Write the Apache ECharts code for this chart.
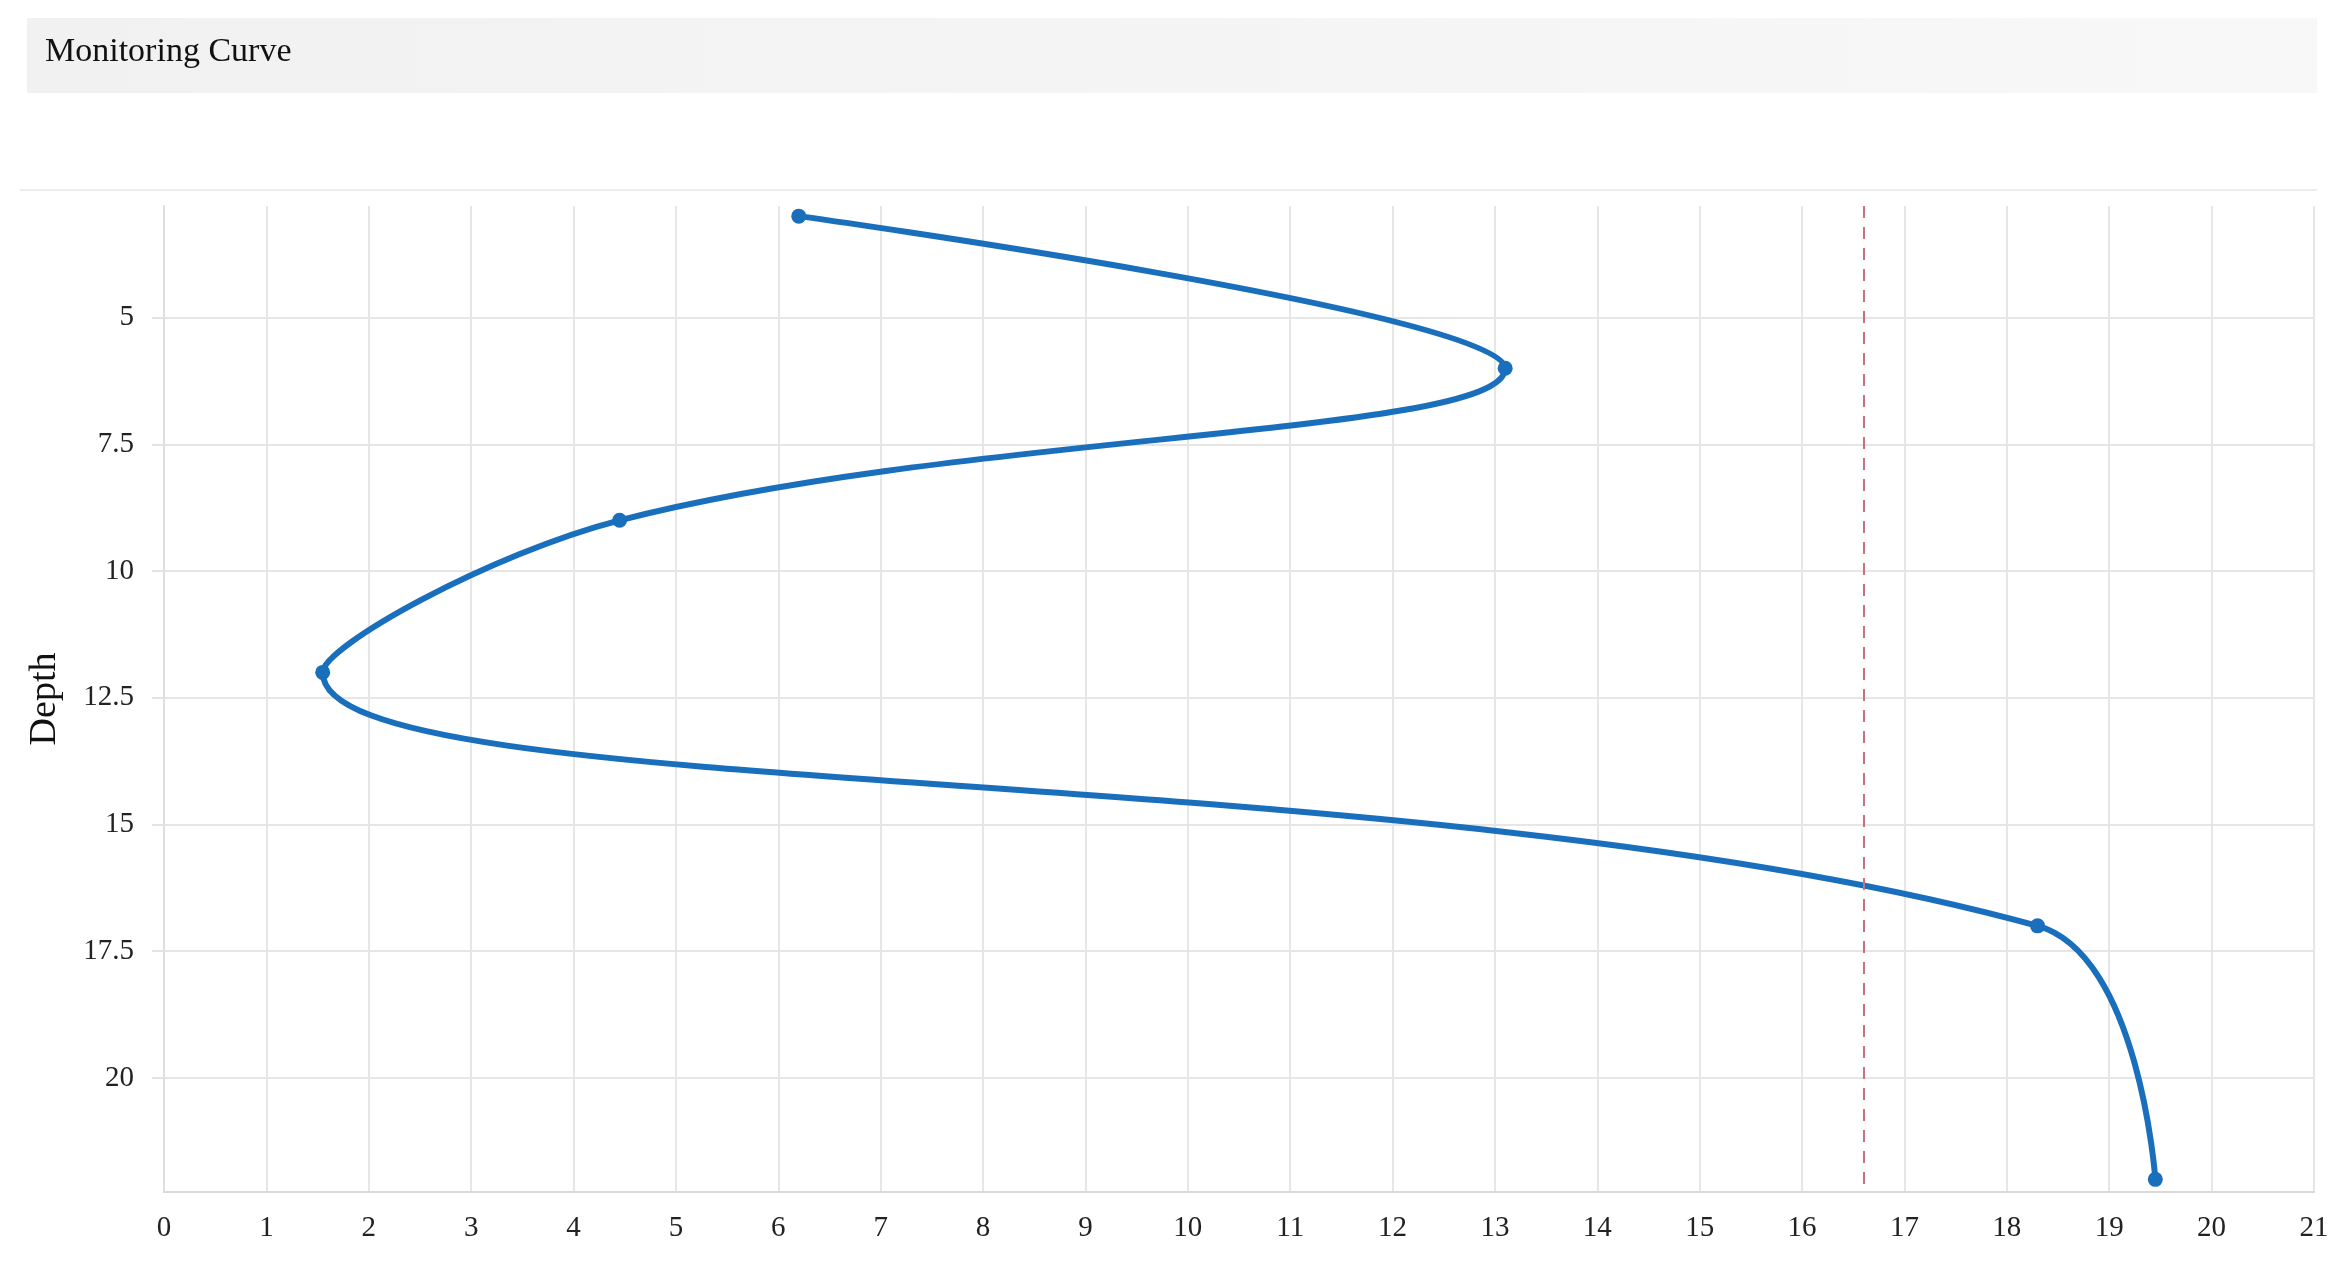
<!DOCTYPE html>
<html>
<head>
<meta charset="utf-8">
<title>Monitoring Curve</title>
<script src="https://cdn.jsdelivr.net/npm/echarts@6/dist/echarts.min.js"></script>
<style>
  html, body { margin: 0; padding: 0; background: #ffffff; }
  #monitorMain { width: 2339px; height: 1280px; }
</style>
</head>
<body>
<div id="monitorMain"></div>
<script>
// 深度 (y) 与监测值 (x)
const depthValues = [3, 6, 9, 12, 17, 22];
const curveValues = [6.2, 13.1, 4.45, 1.55, 18.3, 19.45];
// 红色虚线阈值
const thresholdValue = 16.6;
// 坐标轴范围
const xRange = [0, 21];
const yRange = [2.8, 22.25];

const seriesData = depthValues.map((d, i) => [curveValues[i], d]);

const myChart = echarts.init(document.getElementById('monitorMain'));
const serif = 'Liberation Serif';

const options = {
  backgroundColor: '#ffffff',
  animation: false,
  title: {
    text: 'Monitoring Curve',
    left: 45,
    top: 35,
    padding: 0,
    textStyle: {
      fontFamily: serif,
      fontWeight: 'normal',
      fontSize: 34,
      color: '#111111',
    },
  },
  graphic: [
    {
      type: 'rect',
      z: -10,
      shape: { x: 27, y: 18, width: 2290, height: 75 },
      style: {
        fill: new echarts.graphic.LinearGradient(0, 0, 1, 0, [
          { offset: 0, color: '#f1f1f1' },
          { offset: 1, color: '#f8f8f8' },
        ]),
      },
    },
    {
      type: 'line',
      z: -10,
      shape: { x1: 20, y1: 190, x2: 2317, y2: 190 },
      style: { stroke: '#ececec', lineWidth: 2 },
    },
  ],
  grid: {
    left: 164,
    right: 25,
    top: 206,
    bottom: 88,
    containLabel: false,
  },
  xAxis: {
    type: 'value',
    min: xRange[0],
    max: xRange[1],
    interval: 1,
    axisLine: {
      show: true,
      onZero: false,
      lineStyle: { color: '#d9d9d9', width: 2 },
    },
    axisTick: { show: false },
    axisLabel: {
      margin: 22,
      fontFamily: serif,
      fontSize: 29,
      color: '#222222',
    },
    splitLine: {
      show: true,
      lineStyle: { color: '#e6e6e6', width: 2 },
    },
  },
  yAxis: {
    type: 'value',
    inverse: true,
    min: yRange[0],
    max: yRange[1],
    minInterval: 2.5,
    maxInterval: 2.5,
    name: 'Depth',
    nameLocation: 'middle',
    nameGap: 100,
    nameTextStyle: {
      fontFamily: serif,
      fontSize: 38,
      color: '#111111',
    },
    axisLine: {
      show: true,
      onZero: false,
      lineStyle: { color: '#dedede', width: 2 },
    },
    axisTick: {
      show: true,
      length: 12,
      lineStyle: { color: '#e3e3e3', width: 2 },
    },
    axisLabel: {
      margin: 30,
      showMinLabel: false,
      showMaxLabel: false,
      fontFamily: serif,
      fontSize: 29,
      color: '#222222',
    },
    splitLine: {
      show: true,
      showMinLine: false,
      showMaxLine: false,
      lineStyle: { color: '#e6e6e6', width: 2 },
    },
  },
  series: [
    {
      type: 'line',
      data: seriesData,
      smooth: 0.4,
      symbol: 'circle',
      symbolSize: 15,
      itemStyle: { color: '#1a6fbd' },
      lineStyle: { color: '#1a6fbd', width: 6 },
      markLine: {
        silent: true,
        symbol: 'none',
        label: { show: false },
        lineStyle: { color: '#c9707e', type: [12, 9], width: 2 },
        data: [{ xAxis: thresholdValue }],
      },
    },
  ],
};
myChart.setOption(options);
window.onresize = function () {
  myChart.resize();
};
</script>
</body>
</html>
